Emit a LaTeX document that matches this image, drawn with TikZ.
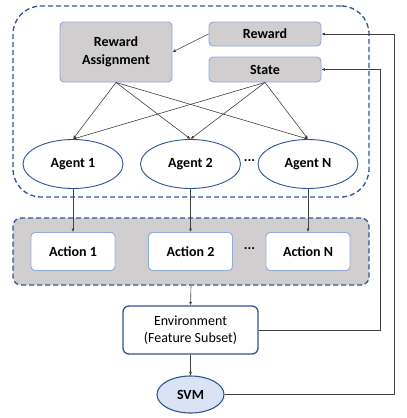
\documentclass[tikz,border=0pt]{standalone}
\usepackage{fontspec}
\setmainfont{Carlito}
\usetikzlibrary{shapes.geometric,arrows.meta,calc}
\definecolor{dblue}{HTML}{2F5597}
\definecolor{lblue}{HTML}{8FAADC}
\definecolor{gfill}{HTML}{D0CECE}
\definecolor{sfill}{HTML}{DAE3F3}
\definecolor{aline}{HTML}{404040}
\begin{document}
\begin{tikzpicture}[x=1pt,y=-1pt,
  txt/.style={font=\fontsize{14}{18}\selectfont\bfseries},
  graybox/.style={draw=lblue,line width=0.9pt,fill=gfill,rounded corners=4pt,txt,inner sep=0pt,align=center},
  actbox/.style={draw=lblue,line width=0.9pt,fill=white,rounded corners=4pt,txt,inner sep=0pt,minimum width=84pt,minimum height=38pt},
  agent/.style={ellipse,draw=dblue,line width=0.9pt,fill=white,txt,inner sep=0pt,minimum width=100pt,minimum height=49pt},
  group/.style={draw=dblue,line width=1.3pt,dash pattern=on 5pt off 3pt},
  arr/.style={draw=aline,line width=0.6pt,-{Latex[length=3.5pt,width=3pt]}}]
\useasboundingbox (0,0) rectangle (407,418);
% outer dashed group
\node[group,rounded corners=28pt,minimum width=356pt,minimum height=191pt,inner sep=0pt] (top) at (191,101.5) {};
\node[group,fill=gfill,rounded corners=8pt,minimum width=356pt,minimum height=67pt,inner sep=0pt] (acts) at (191,251.5) {};
% top boxes
\node[graybox,minimum width=112pt,minimum height=60pt] (ra) at (116,52) {Reward\\Assignment};
\node[graybox,minimum width=112pt,minimum height=24pt] (rew) at (265,34) {Reward};
\node[graybox,minimum width=112pt,minimum height=25pt] (st) at (265,69.5) {State};
% agents
\node[agent] (a1) at (73,164) {Agent 1};
\node[agent] (a2) at (190.5,164) {Agent 2};
\node[agent] (an) at (308,164) {Agent N};
\node[txt] (d1) at (249.5,161) {...};
% actions
\node[actbox] (c1) at (73,251.5) {Action 1};
\node[actbox] (c2) at (190.5,251.5) {Action 2};
\node[actbox] (cn) at (308,251.5) {Action N};
\node[txt] (d2) at (249.5,249) {...};
% environment & svm
\node[draw=dblue,line width=1.3pt,fill=white,rounded corners=6pt,minimum width=135pt,minimum height=48pt,inner sep=0pt,align=center,font=\fontsize{14}{17}\selectfont] (env) at (190.5,330) {Environment\\(Feature Subset)};
\node[ellipse,draw=dblue,line width=1.1pt,fill=sfill,txt,minimum width=67pt,minimum height=37pt,inner sep=0pt] (svm) at (190.5,394.5) {SVM};
% arrows
\draw[arr] (rew.west) -- (ra.east);
\foreach \t in {a1,a2,an}{
  \draw[arr] (ra.south) -- (\t.north);
  \draw[arr] (st.south) -- (\t.north);
}
\draw[arr] (a1.south) -- (c1.north);
\draw[arr] (a2.south) -- (c2.north);
\draw[arr] (an.south) -- (cn.north);
\draw[arr] (acts.south) -- (env.north);
\draw[arr] (env.south) -- (svm.north);
\coordinate (r1) at (380,330);
\coordinate (r2) at (394,394.5);
\draw[arr] (env.east) -- (r1) |- (st.east);
\draw[arr] (svm.east) -- (r2) |- (rew.east);
\end{tikzpicture}
\end{document}
